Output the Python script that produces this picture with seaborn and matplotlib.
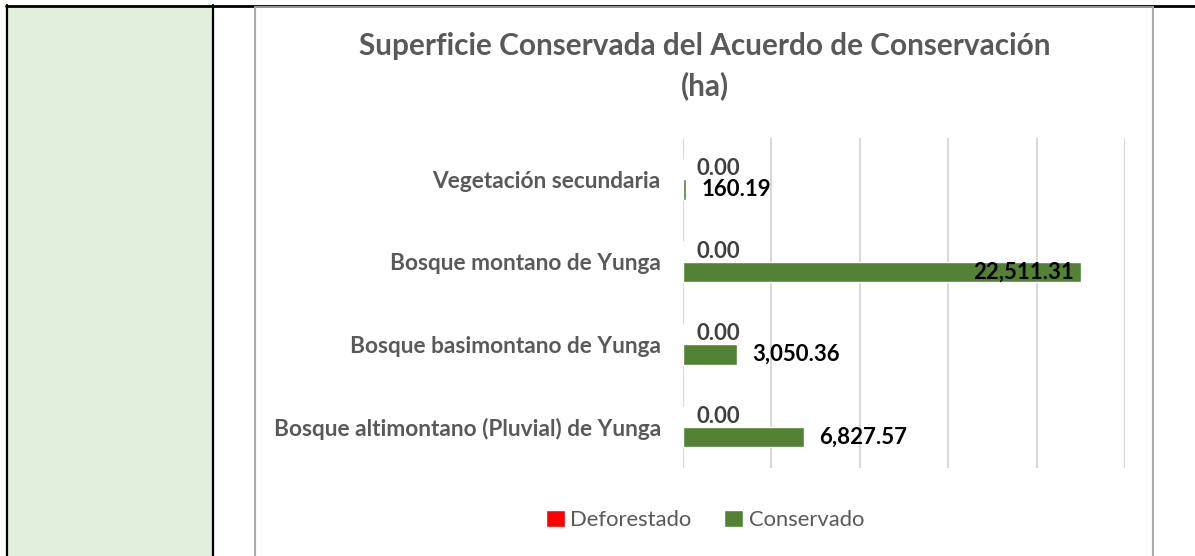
import matplotlib
matplotlib.use("Agg")
import matplotlib.pyplot as plt
from matplotlib.patches import Rectangle
import pandas as pd
import seaborn as sns

# datos del gráfico
categorias = ["Vegetación secundaria", "Bosque montano de Yunga",
              "Bosque basimontano de Yunga", "Bosque altimontano (Pluvial) de Yunga"]
deforestado = [0.00, 0.00, 0.00, 0.00]
conservado = [160.19, 22511.31, 3050.36, 6827.57]
series = ["Deforestado", "Conservado"]
titulo = "Superficie Conservada del Acuerdo de Conservación\n(ha)"

VERDE = "#548235"
ROJO = "#FF0000"
GRIS = "#595959"

df = pd.DataFrame({
    "categoria": categorias * 2,
    "serie": [series[0]] * 4 + [series[1]] * 4,
    "valor": deforestado + conservado,
})

sns.set_style("white")
plt.rcParams["font.family"] = ["Lato", "DejaVu Sans"]

W, H = 1195, 556
fig = plt.figure(figsize=(W / 100, H / 100), dpi=100)

# fondo tipo tabla (celdas y bordes)
bg = fig.add_axes([0, 0, 1, 1], zorder=0)
bg.set_xlim(0, W)
bg.set_ylim(H, 0)
bg.axis("off")
bg.add_patch(Rectangle((8, 7), 204, H - 7, color="#E2EFDA", lw=0))
bg.plot([6, W], [5.5, 5.5], color="black", lw=2)
bg.plot([7, 7], [5, H], color="black", lw=1.6)
bg.plot([213, 213], [5, H], color="black", lw=1.6)
bg.plot([256, 1153], [7.2, 7.2], color="#B0B0B0", lw=1.2)
bg.plot([255.5, 255.5], [7, H], color="#ADADAD", lw=1.5)
bg.plot([1153.5, 1153.5], [7, H], color="#ADADAD", lw=1.5)

ax = fig.add_axes([683 / W, 1 - 468 / H, (1125 - 683) / W, (468 - 138) / H], zorder=1)
sns.barplot(data=df, y="categoria", x="valor", hue="serie", order=categorias,
            hue_order=series, palette=[ROJO, VERDE], saturation=1, orient="h",
            width=0.5, ax=ax, legend=True)

ax.set_xlim(0, 25000)
ax.set_xticks(range(0, 25001, 5000))
ax.set_xticklabels([])
ax.grid(axis="x", color="#D9D9D9", lw=1.5)
ax.set_axisbelow(True)
ax.tick_params(axis="both", length=0)
ax.tick_params(axis="y", pad=16)
for lbl in ax.get_yticklabels():
    lbl.set_fontweight("bold")
    lbl.set_color(GRIS)
    lbl.set_fontsize(16.3)
ax.set_xlabel("")
ax.set_ylabel("")
sns.despine(ax=ax, left=True, bottom=True)

# etiquetas de datos
cont_def, cont_con = ax.containers
ax.bar_label(cont_def, labels=[f"{v:,.2f}" for v in deforestado], padding=10,
             fontsize=16, fontweight="bold", color="#404040")
vmax = max(conservado)
ax.bar_label(cont_con, labels=["" if v == vmax else f"{v:,.2f}" for v in conservado],
             padding=11, fontsize=16, fontweight="bold", color="black")
for p, v in zip(cont_con.patches, conservado):
    if v == vmax:
        ax.annotate(f"{v:,.2f}", (p.get_width(), p.get_y() + p.get_height() / 2),
                    xytext=(-5, 0), textcoords="offset points", ha="right", va="center",
                    fontsize=16, fontweight="bold", color="black")

# leyenda
handles, labels = ax.get_legend_handles_labels()
ax.get_legend().remove()
fig.legend(handles, labels, loc="center", bbox_to_anchor=(705 / W, 1 - 520 / H),
           ncol=2, frameon=False, fontsize=15.8, labelcolor=GRIS, handlelength=0.85,
           handleheight=0.85, handletextpad=0.25, columnspacing=1.5)

fig.text(705 / W, 1 - 66 / H, titulo, ha="center", va="center", fontsize=21.4,
         fontweight="bold", color=GRIS, linespacing=1.45)

fig.savefig("out.png", dpi=100)
